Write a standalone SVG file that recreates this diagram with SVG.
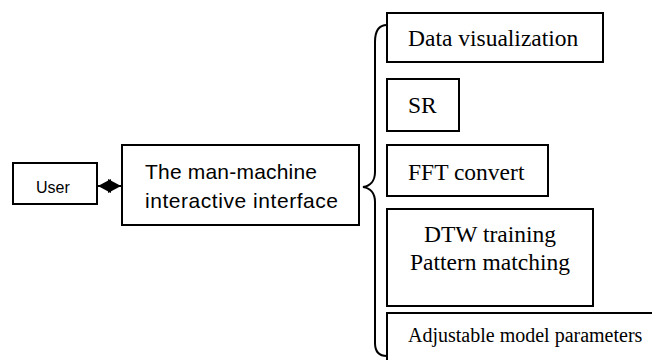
<svg xmlns="http://www.w3.org/2000/svg" width="652" height="360" viewBox="0 0 652 360">
  <style>
    .box { fill: #fff; stroke: #000; stroke-width: 2; }
    .sans { font-family: "Liberation Sans", Arial, sans-serif; fill: #000; }
    .serif { font-family: "Liberation Serif", "Times New Roman", serif; fill: #000; }
    .link { fill: none; stroke: #000; stroke-width: 2; }
  </style>
  <defs>
    <marker id="head" markerUnits="userSpaceOnUse" markerWidth="13" markerHeight="14" viewBox="0 0 13 14" refX="13" refY="7" orient="auto-start-reverse">
      <path d="M0,0 L13,7 L0,14 Z" fill="#000"/>
    </marker>
  </defs>
  <rect width="652" height="360" fill="#fff"/>

  <g id="user">
    <rect class="box" x="13" y="163" width="84" height="41"/>
    <text class="sans" x="36" y="193" font-size="16">User</text>
  </g>

  <g id="interface">
    <rect class="box" x="122" y="145" width="237" height="80"/>
    <text class="sans" x="145" y="179" font-size="21" textLength="172">The man-machine</text>
    <text class="sans" x="145" y="208" font-size="21" textLength="193">interactive interface</text>
  </g>

  <g id="data-visualization">
    <rect class="box" x="387" y="13" width="216" height="49"/>
    <text class="serif" x="408" y="46" font-size="23.5">Data visualization</text>
  </g>

  <g id="sr">
    <rect class="box" x="387" y="79" width="72" height="52"/>
    <text class="serif" x="408" y="113" font-size="23.5">SR</text>
  </g>

  <g id="fft">
    <rect class="box" x="387" y="145" width="161" height="51"/>
    <text class="serif" x="408" y="180" font-size="23.5">FFT convert</text>
  </g>

  <g id="dtw">
    <rect class="box" x="387" y="209" width="206" height="97"/>
    <text class="serif" x="490" y="242" font-size="23.5" text-anchor="middle">DTW training</text>
    <text class="serif" x="490" y="270" font-size="23.5" text-anchor="middle">Pattern matching</text>
  </g>

  <g id="parameters">
    <rect class="box" x="387" y="313" width="280" height="60"/>
    <text class="serif" x="408" y="342" font-size="20">Adjustable model parameters</text>
  </g>

  <g id="connectors">
    <line class="link" x1="98" y1="186" x2="121" y2="186" marker-start="url(#head)" marker-end="url(#head)"/>
    <path class="link" d="M387,25 C378,25 375,32 375,42 L375,172 C375,181 370,186 363,187 C370,188 375,193 375,202 L375,343 C375,351 379,356 387,356"/>
  </g>
</svg>
